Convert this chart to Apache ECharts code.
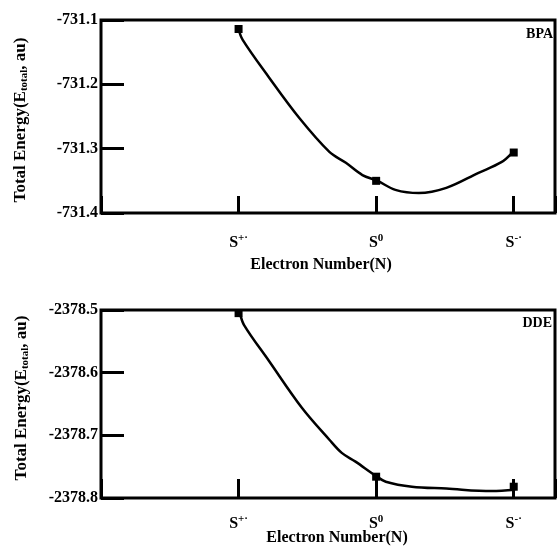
<!DOCTYPE html>
<html>
<head>
<meta charset="utf-8">
<style>html,body{margin:0;padding:0;background:#fff;}#c{width:558px;height:550px;}</style>
<script src="https://cdn.jsdelivr.net/npm/echarts@6/dist/echarts.min.js"></script>
</head>
<body>
<div id="c"></div>
<script>
// Category positions on the x axis and their labels
var categoryX = [1, 2, 3];
var categoryBase = ['S', 'S', 'S'];
var categorySup = ['+·', '0', '-·'];

// BPA panel (top)
var bpaTickLabels = ['-731.4', '-731.3', '-731.2', '-731.1'];
var bpaMarkers = [-731.114, -731.350, -731.306];
var bpaCurveX = [1.00, 1.03, 1.22, 1.44, 1.66, 1.78, 1.90, 2.01, 2.14, 2.31, 2.51, 2.74, 2.91, 2.99];
var bpaCurveY = [-731.114, -731.131, -731.189, -731.252, -731.305, -731.322, -731.341, -731.350, -731.364, -731.369, -731.361, -731.338, -731.321, -731.306];

// DDE panel (bottom)
var ddeTickLabels = ['-2378.8', '-2378.7', '-2378.6', '-2378.5'];
var ddeMarkers = [-2378.505, -2378.766, -2378.782];
var ddeCurveX = [1.01, 1.04, 1.22, 1.46, 1.66, 1.75, 1.85, 2.00, 2.07, 2.26, 2.51, 2.84, 3.01];
var ddeCurveY = [-2378.505, -2378.524, -2378.581, -2378.656, -2378.707, -2378.728, -2378.742, -2378.765, -2378.774, -2378.782, -2378.785, -2378.789, -2378.787];

var FONT = 'Liberation Serif';

function zip(xs, ys) { return xs.map(function (x, i) { return [x, ys[i]]; }); }

function xLabel(v) {
  var i = categoryX.indexOf(Math.round(v * 1000) / 1000);
  if (i < 0) return '';
  return '{s|' + categoryBase[i] + '}{sup|' + categorySup[i] + '}';
}

function makeX(gi, margin, tickLen) {
  return {
    type: 'value', gridIndex: gi, min: 0, max: 3.3, interval: 1,
    axisLine: { show: false },
    splitLine: { show: false },
    axisTick: { show: true, inside: true, length: tickLen, lineStyle: { color: '#000', width: 3 } },
    axisLabel: {
      margin: margin,
      formatter: xLabel,
      rich: {
        s: { fontFamily: FONT, fontWeight: 'bold', fontSize: 16, color: '#000' },
        sup: { fontFamily: FONT, fontWeight: 'bold', fontSize: 11, color: '#000', verticalAlign: 'top', padding: [0, 0, 8, 0] }
      }
    }
  };
}

function makeY(gi, min, max, labels) {
  return {
    type: 'value', gridIndex: gi, min: min, max: max, interval: 0.1,
    axisLine: { show: false },
    splitLine: { show: false },
    axisTick: { show: true, inside: true, length: 23, lineStyle: { color: '#000', width: 3 } },
    axisLabel: {
      margin: 3,
      fontFamily: FONT, fontWeight: 'bold', fontSize: 16, color: '#000',
      formatter: function (v, i) { return labels[i] !== undefined ? labels[i] : ''; }
    }
  };
}

function yName(x, y) {
  return {
    type: 'text', x: x, y: y, rotation: Math.PI / 2,
    style: {
      text: '{m|Total Energy(E}{sub|total}{m|, au)}',
      textAlign: 'center', textVerticalAlign: 'middle',
      rich: {
        m: { fontFamily: FONT, fontWeight: 'bold', fontSize: 17, fill: '#000' },
        sub: { fontFamily: FONT, fontWeight: 'bold', fontSize: 11, fill: '#000', verticalAlign: 'bottom' }
      }
    }
  };
}

function xName(x, y) {
  return {
    type: 'text', x: x, y: y,
    style: { text: 'Electron Number(N)', fontFamily: FONT, fontWeight: 'bold', fontSize: 16, fill: '#000', textAlign: 'center', textVerticalAlign: 'middle' }
  };
}

function tag(x, y, t) {
  return {
    type: 'text', x: x, y: y,
    style: { text: t, fontFamily: FONT, fontWeight: 'bold', fontSize: 14, fill: '#000', textAlign: 'right', textVerticalAlign: 'middle' }
  };
}

var chart = echarts.init(document.getElementById('c'), null, { renderer: 'canvas' });
chart.setOption({
  animation: false,
  backgroundColor: '#fff',
  grid: [
    { left: 101, top: 20, width: 456, height: 193, show: true, borderColor: '#000', borderWidth: 3, backgroundColor: 'transparent' },
    { left: 101, top: 310, width: 456, height: 188, show: true, borderColor: '#000', borderWidth: 3, backgroundColor: 'transparent' }
  ],
  xAxis: [makeX(0, 20, 17), makeX(1, 16, 19)],
  yAxis: [makeY(0, -731.4, -731.1, bpaTickLabels), makeY(1, -2378.8, -2378.5, ddeTickLabels)],
  graphic: [
    yName(21, 120), yName(22, 398),
    xName(321, 265), xName(337, 538),
    tag(553, 34, 'BPA'), tag(552, 323, 'DDE')
  ],
  series: [
    { type: 'line', xAxisIndex: 0, yAxisIndex: 0, data: zip(bpaCurveX, bpaCurveY), smooth: 0.35, showSymbol: false, lineStyle: { color: '#000', width: 2.5 } },
    { type: 'scatter', xAxisIndex: 0, yAxisIndex: 0, data: zip(categoryX, bpaMarkers), symbol: 'rect', symbolSize: 8, itemStyle: { color: '#000', opacity: 1 } },
    { type: 'line', xAxisIndex: 1, yAxisIndex: 1, data: zip(ddeCurveX, ddeCurveY), smooth: 0.35, showSymbol: false, lineStyle: { color: '#000', width: 2.5 } },
    { type: 'scatter', xAxisIndex: 1, yAxisIndex: 1, data: zip(categoryX, ddeMarkers), symbol: 'rect', symbolSize: 8, itemStyle: { color: '#000', opacity: 1 } }
  ]
});
</script>
</body>
</html>
